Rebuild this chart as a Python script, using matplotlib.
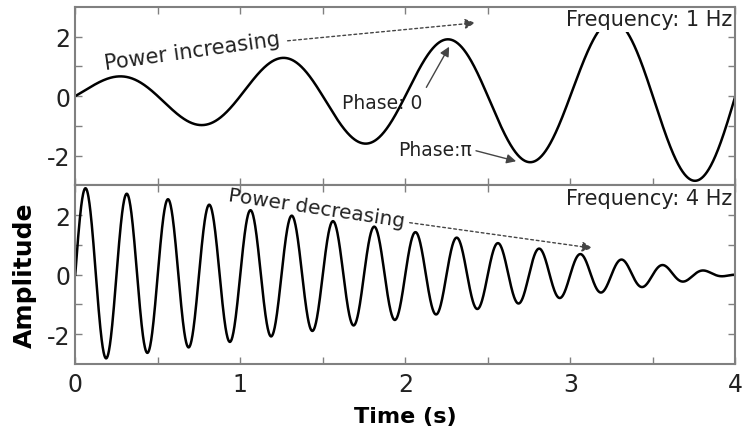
import numpy as np
import matplotlib.pyplot as plt

# signal parameters
t_range = [0, 4]
freq_top = 1          # Hz
amp_top = [0.5, 3.0]  # envelope at t=0 and t=4 (growing)
freq_bot = 4          # Hz
amp_bot = [2.95, 0.0] # envelope at t=0 and t=4 (decaying)

y_range = [-3, 3]
x_labels = ['0', '1', '2', '3', '4']
y_labels = ['-2', '0', '2']

t = np.linspace(t_range[0], t_range[1], 2000)
env_top = amp_top[0] + (amp_top[1] - amp_top[0]) * t / t_range[1]
env_bot = amp_bot[0] + (amp_bot[1] - amp_bot[0]) * t / t_range[1]
y_top = env_top * np.sin(2 * np.pi * freq_top * t)
y_bot = env_bot * np.sin(2 * np.pi * freq_bot * t)

fig, (ax1, ax2) = plt.subplots(2, 1, figsize=(7.45, 4.35), dpi=100, sharex=True)
fig.subplots_adjust(left=0.101, right=0.987, top=0.982, bottom=0.161, hspace=0)

grey = '#808080'
for ax, y in [(ax1, y_top), (ax2, y_bot)]:
    ax.plot(t, y, color='black', lw=1.8, zorder=2)
    ax.set_xlim(t_range)
    ax.set_ylim(y_range)
    ax.set_xticks(np.arange(0, 4.01, 0.5))
    ax.set_xticklabels([x_labels[int(v)] if v == int(v) else '' for v in np.arange(0, 4.01, 0.5)])
    ax.set_yticks([-2, -1, 0, 1, 2])
    ax.set_yticklabels([y_labels[0], '', y_labels[1], '', y_labels[2]])
    ax.tick_params(direction='in', top=True, right=True, length=5, color=grey,
                   labelsize=17, colors='#222222', width=1)
    ax.tick_params(axis='x', pad=6)
    for s in ax.spines.values():
        s.set_color(grey)
        s.set_linewidth(1.5)
        s.set_zorder(5)

txt = '#222222'
# top panel texts
ax1.text(3.98, 2.58, 'Frequency: 1 Hz', ha='right', va='center', fontsize=15,
         color=txt, bbox=dict(facecolor='white', edgecolor='none', pad=2), zorder=3)
ax1.text(0.71, 1.52, 'Power increasing', ha='center', va='center', fontsize=15,
         rotation=8, color=txt)
ax1.annotate('', xy=(2.44, 2.47), xytext=(1.27, 1.85),
             arrowprops=dict(arrowstyle='-|>', linestyle=(0, (2, 2)), color='#444444',
                             lw=1, mutation_scale=15))
ax1.annotate('Phase: 0', xy=(2.27, 1.7), xytext=(1.86, -0.2), ha='center', va='center',
             fontsize=13.5, color=txt,
             arrowprops=dict(arrowstyle='-|>', color='#444444', lw=1, mutation_scale=14,
                             shrinkA=2, shrinkB=1, relpos=(1.0, 0.9)))
ax1.annotate('Phase:\u03c0', xy=(2.68, -2.2), xytext=(2.18, -1.8), ha='center', va='center',
             fontsize=13.5, color=txt,
             arrowprops=dict(arrowstyle='-|>', color='#444444', lw=1, mutation_scale=14,
                             shrinkA=1, shrinkB=1, relpos=(1.0, 0.5)))

# bottom panel texts
ax2.text(3.98, 2.58, 'Frequency: 4 Hz', ha='right', va='center', fontsize=15,
         color=txt, bbox=dict(facecolor='white', edgecolor='none', pad=2), zorder=3)
ax2.text(1.46, 2.25, 'Power decreasing', ha='center', va='center', fontsize=14.5,
         rotation=-8.5, color=txt)
ax2.annotate('', xy=(3.15, 0.88), xytext=(2.01, 1.76),
             arrowprops=dict(arrowstyle='-|>', linestyle=(0, (2, 2)), color='#444444',
                             lw=1, mutation_scale=15))

ax2.set_xlabel('Time (s)', fontsize=16, fontweight='bold', labelpad=7)
ax2.set_ylabel('Amplitude', fontsize=18, fontweight='bold', labelpad=7)

plt.savefig('out.png')
